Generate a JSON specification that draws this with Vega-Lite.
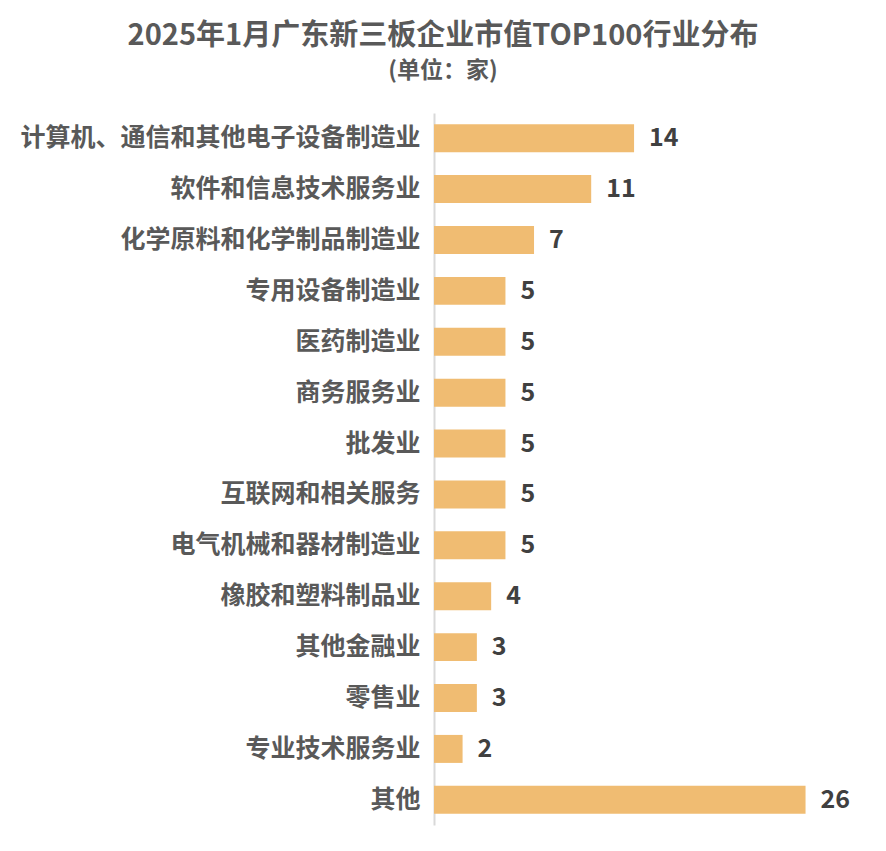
{
  "$schema": "https://vega.github.io/schema/vega-lite/v6.json",
  "autosize": {"type": "none"},
  "width": 452,
  "height": 712,
  "padding": {"left": 434, "top": 113, "right": 0, "bottom": 26},
  "background": "white",
  "title": {
    "text": "2025年1月广东新三板企业市值TOP100行业分布",
    "subtitle": "(单位：家)",
    "anchor": "middle",
    "frame": "group",
    "dx": -217,
    "offset": 30,
    "font": "Noto Sans CJK SC",
    "fontSize": 29,
    "fontWeight": "bold",
    "color": "#595959",
    "subtitleFont": "Noto Sans CJK SC",
    "subtitleFontSize": 23,
    "subtitleFontWeight": "bold",
    "subtitleColor": "#595959",
    "subtitlePadding": 9
  },
  "data": {
    "values": [
      {"industry": "计算机、通信和其他电子设备制造业", "count": 14},
      {"industry": "软件和信息技术服务业", "count": 11},
      {"industry": "化学原料和化学制品制造业", "count": 7},
      {"industry": "专用设备制造业", "count": 5},
      {"industry": "医药制造业", "count": 5},
      {"industry": "商务服务业", "count": 5},
      {"industry": "批发业", "count": 5},
      {"industry": "互联网和相关服务", "count": 5},
      {"industry": "电气机械和器材制造业", "count": 5},
      {"industry": "橡胶和塑料制品业", "count": 4},
      {"industry": "其他金融业", "count": 3},
      {"industry": "零售业", "count": 3},
      {"industry": "专业技术服务业", "count": 2},
      {"industry": "其他", "count": 26}
    ]
  },
  "encoding": {
    "y": {
      "field": "industry",
      "type": "nominal",
      "sort": null,
      "scale": {"paddingInner": 0.45, "paddingOuter": 0.22},
      "axis": {
        "title": null,
        "ticks": false,
        "domainColor": "#d9d9d9",
        "domainWidth": 2,
        "labelFont": "Noto Sans CJK SC",
        "labelFontSize": 25,
        "labelFontWeight": "bold",
        "labelColor": "#595959",
        "labelPadding": 14,
        "labelLimit": 500
      }
    },
    "x": {
      "field": "count",
      "type": "quantitative",
      "scale": {"domain": [0, 31.63]},
      "axis": null
    }
  },
  "layer": [
    {"mark": {"type": "bar", "color": "#F0BC72"}},
    {
      "mark": {
        "type": "text",
        "align": "left",
        "baseline": "middle",
        "dx": 15,
        "font": "Noto Sans CJK SC",
        "fontSize": 25,
        "fontWeight": "bold",
        "color": "#404040"
      },
      "encoding": {"text": {"field": "count", "type": "quantitative"}}
    }
  ],
  "config": {
    "view": {"stroke": null},
    "axis": {"grid": false}
  }
}
